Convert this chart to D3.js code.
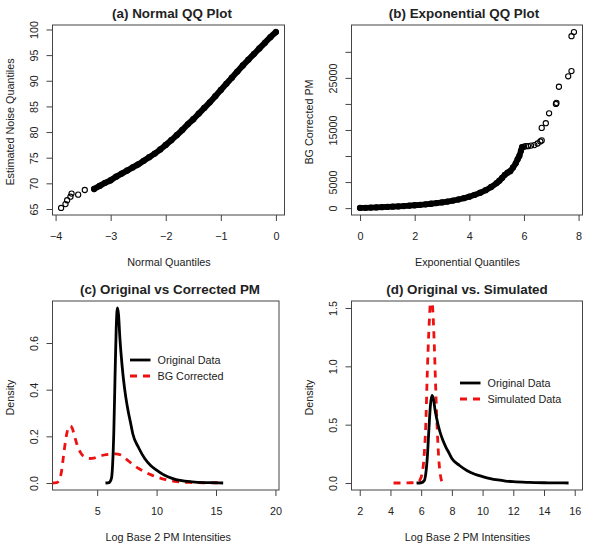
<!DOCTYPE html>
<html><head><meta charset="utf-8">
<script src="https://cdn.jsdelivr.net/npm/d3@7/dist/d3.min.js"></script>
<style>
body{margin:0;background:#fff}
text{font-family:"Liberation Sans",Arial,Helvetica,sans-serif;fill:#222}
</style>
</head><body>
<svg id="chart" width="600" height="550"></svg>
<script>
// ---------- Panel (a) Normal QQ plot ----------
const qqNormX = [-3.90,-3.82,-3.79,-3.73,-3.71,-3.59,-3.47,
  -3.3,-3.2,-3.1,-3.0,-2.9,-2.8,-2.7,-2.6,-2.5,-2.4,-2.3,-2.2,-2.1,-2.0,-1.9,-1.8,-1.7,-1.6,-1.5,
  -1.4,-1.3,-1.2,-1.1,-1.0,-0.9,-0.8,-0.7,-0.6,-0.5,-0.4,-0.3,-0.2,-0.1,0.0];
const qqNormY = [65.2,65.95,66.7,67.4,68.0,67.8,68.7,
  68.9,69.5,70.1,70.6,71.3,71.9,72.5,73.1,73.7,74.4,75.1,75.8,76.6,77.5,78.4,79.4,80.4,81.5,82.5,
  83.6,84.7,85.8,87.0,88.2,89.4,90.6,91.8,93.0,94.1,95.2,96.3,97.4,98.5,99.5];
const qqNormDenseStart = 7; // index where the dense band begins
const aXTicks = [-4,-3,-2,-1,0];
const aXTickLabels = ["\u22124","\u22123","\u22122","\u22121","0"];
const aYTicks = [65,70,75,80,85,90,95,100];
const aYTickLabels = ["65","70","75","80","85","90","95","100"];

// ---------- Panel (b) Exponential QQ plot ----------
const qqExpX = [0,0.2,0.4,0.6,0.8,1.0,1.2,1.4,1.6,1.8,2.0,2.2,2.4,2.6,2.8,3.0,3.2,3.4,3.6,3.8,4.0,
  4.2,4.4,4.6,4.8,5.0,5.1,5.2,5.3,5.4,5.5,5.6,5.7,5.77,5.83,5.89,5.93,
  6.0,6.07,6.15,6.26,6.38,6.5,6.6,6.65,6.65,6.8,6.92,7.17,7.19,7.28,7.62,7.74,7.74,7.83];
const qqExpY = [30,60,100,140,180,230,280,330,400,470,550,640,730,840,960,1100,1260,1440,1650,1900,2200,
  2550,2950,3450,4050,4800,5250,5800,6400,6800,7100,7800,8600,9400,10000,11000,11700,
  11800,11900,11900,12000,12100,12400,12800,13000,15400,16300,18200,20000,20200,23300,25300,26300,33000,33800];
const qqExpDenseEnd = 37; // dense band covers indices below this
const bXTicks = [0,2,4,6,8];
const bXTickLabels = ["0","2","4","6","8"];
const bYTicks = [0,5000,10000,15000,20000,25000,30000];
const bYTickLabels = ["0","5000","","15000","","25000",""];

// ---------- Panel (c) Original vs Corrected ----------
const origX = [5.7,6.0,6.2,6.3,6.4,6.5,6.6,6.7,6.8,6.9,7.0,7.2,7.4,7.6,7.8,8.0,8.5,9.0,9.5,10,10.5,11,11.5,12,13,14,15,15.6];
const origY = [0,0.002,0.02,0.08,0.22,0.45,0.66,0.75,0.72,0.63,0.56,0.45,0.37,0.31,0.26,0.21,0.15,0.105,0.075,0.055,0.038,0.026,0.017,0.011,0.005,0.002,0.001,0];
const bgX = [1.2,1.6,1.8,2.0,2.2,2.4,2.6,2.75,2.9,3.1,3.3,3.6,4.0,4.4,4.8,5.2,5.6,6.0,6.5,7.0,7.5,8.0,8.5,9.0,9.5,10,10.5,11,11.5,12,13,14,15.4];
const bgY = [0,0.002,0.01,0.05,0.13,0.2,0.24,0.245,0.235,0.2,0.165,0.13,0.11,0.105,0.108,0.115,0.12,0.123,0.125,0.12,0.1,0.08,0.062,0.048,0.036,0.026,0.018,0.012,0.007,0.004,0.002,0.001,0];
const cXTicks = [5,10,15,20];
const cYTicks = [0,0.2,0.4,0.6];
const cYTickLabels = ["0.0","0.2","0.4","0.6"];
const cLegend = ["Original Data","BG Corrected"];

// ---------- Panel (d) Original vs Simulated ----------
const simX = [4.2,4.8,5.4,5.8,6.0,6.2,6.3,6.4,6.5,6.6,6.65,6.75,6.85,6.95,7.05,7.15,7.25,7.35,7.4];
const simY = [0,0,0.002,0.01,0.05,0.25,0.5,0.95,1.3,1.55,1.6,1.5,1.2,0.8,0.45,0.2,0.07,0.01,0];
const dXTicks = [2,4,6,8,10,12,14,16];
const dYTicks = [0,0.5,1.0,1.5];
const dYTickLabels = ["0.0","0.5","1.0","1.5"];
const dLegend = ["Original Data","Simulated Data"];

const RED = "#ee1111";
const svg = d3.select("#chart");
const FS = 10.8;

function panel(o){
  const g = svg.append("g");
  const x = d3.scaleLinear().domain(o.xd).range([o.x0,o.x1]);
  const y = d3.scaleLinear().domain(o.yd).range([o.y1,o.y0]);
  const cid = "clip"+o.id;
  g.append("clipPath").attr("id",cid).append("rect")
    .attr("x",o.x0).attr("y",o.y0).attr("width",o.x1-o.x0).attr("height",o.y1-o.y0);
  // x axis
  const xa = g.append("g").attr("transform",`translate(0,${o.y1})`)
    .call(d3.axisBottom(x).tickValues(o.xt).tickSize(6).tickPadding(11)
      .tickFormat((d,i)=>o.xl[i]));
  xa.select(".domain").remove();
  xa.selectAll("line").attr("stroke","#444");
  xa.selectAll("text").attr("font-size",FS).attr("fill","#222")
    .style("font-family",'"Liberation Sans",Arial,sans-serif');
  // y axis
  const ya = g.append("g").attr("transform",`translate(${o.x0},0)`)
    .call(d3.axisLeft(y).tickValues(o.yt).tickSize(6)
      .tickFormat((d,i)=>o.yl[i]));
  ya.select(".domain").remove();
  ya.selectAll("line").attr("stroke","#444");
  ya.selectAll("text").attr("font-size",FS).attr("fill","#222")
    .style("font-family",'"Liberation Sans",Arial,sans-serif')
    .attr("transform","rotate(-90)").attr("x",0).attr("y",-15).attr("dy",null)
    .attr("text-anchor","middle");
  // box
  g.append("rect").attr("x",o.x0).attr("y",o.y0).attr("width",o.x1-o.x0).attr("height",o.y1-o.y0)
    .attr("fill","none").attr("stroke","#444").attr("stroke-width",1);
  // title and labels
  g.append("text").attr("x",o.tx).attr("y",o.y0-7).attr("text-anchor","middle")
    .attr("font-size",13.4).attr("font-weight","bold").attr("fill","#111").text(o.title);
  g.append("text").attr("x",o.lx).attr("y",o.y1+51).attr("text-anchor","middle")
    .attr("font-size",FS).text(o.xlab);
  g.append("text").attr("transform",`translate(${o.x0-38.5},${(o.y0+o.y1)/2+2}) rotate(-90)`)
    .attr("text-anchor","middle").attr("font-size",FS).text(o.ylab);
  const plot = g.append("g").attr("clip-path",`url(#${cid})`);
  return {x,y,plot,g};
}

// Panel a
{
  const ax = d3.extent(qqNormX), ay = d3.extent(qqNormY);
  const px = (ax[1]-ax[0])*0.04, py = (ay[1]-ay[0])*0.04;
  const p = panel({id:"a",x0:52.5,x1:284.5,y0:25,y1:215,
    xd:[ax[0]-px,ax[1]+px],yd:[ay[0]-py,ay[1]+py],
    xt:aXTicks,xl:aXTickLabels,yt:aYTicks,yl:aYTickLabels,
    title:"(a) Normal QQ Plot",tx:172,xlab:"Normal Quantiles",lx:169,ylab:"Estimated Noise Quantiles"});
  const pts = qqNormX.map((v,i)=>[v,qqNormY[i]]);
  p.plot.append("path").datum(pts.slice(qqNormDenseStart))
    .attr("d",d3.line().x(d=>p.x(d[0])).y(d=>p.y(d[1])).curve(d3.curveMonotoneX))
    .attr("fill","none").attr("stroke","#000").attr("stroke-width",6).attr("stroke-linecap","round");
  p.plot.selectAll("circle").data(pts).join("circle")
    .attr("cx",d=>p.x(d[0])).attr("cy",d=>p.y(d[1])).attr("r",2.6)
    .attr("fill","none").attr("stroke","#000").attr("stroke-width",1.1);
}
// Panel b
{
  const ax = d3.extent(qqExpX), ay = d3.extent(qqExpY);
  const px = (ax[1]-ax[0])*0.04, py = (ay[1]-ay[0])*0.04;
  const p = panel({id:"b",x0:351.5,x1:582.5,y0:25,y1:215,
    xd:[ax[0]-px,ax[1]+px],yd:[ay[0]-py,ay[1]+py],
    xt:bXTicks,xl:bXTickLabels,yt:bYTicks,yl:bYTickLabels,
    title:"(b) Exponential QQ Plot",tx:464,xlab:"Exponential Quantiles",lx:467.5,ylab:"BG Corrected PM"});
  const pts = qqExpX.map((v,i)=>[v,qqExpY[i]]);
  p.plot.append("path").datum(pts.slice(0,qqExpDenseEnd))
    .attr("d",d3.line().x(d=>p.x(d[0])).y(d=>p.y(d[1])))
    .attr("fill","none").attr("stroke","#000").attr("stroke-width",5.8).attr("stroke-linecap","round");
  p.plot.selectAll("circle").data(pts).join("circle")
    .attr("cx",d=>p.x(d[0])).attr("cy",d=>p.y(d[1])).attr("r",2.6)
    .attr("fill","none").attr("stroke","#000").attr("stroke-width",1.1);
}
function drawLegend(g,x0,y0,labels){
  const rows = [{c:"#000",dash:null},{c:RED,dash:"7,6"}];
  rows.forEach((r,i)=>{
    const yy = y0 + i*16;
    g.append("line").attr("x1",x0).attr("x2",x0+20.5).attr("y1",yy).attr("y2",yy)
      .attr("stroke",r.c).attr("stroke-width",2.8).attr("stroke-dasharray",r.dash);
    g.append("text").attr("x",x0+27.5).attr("y",yy+4).attr("font-size",FS).text(labels[i]);
  });
}
// Panel c
{
  const ylim = [0,0.75], yp = (ylim[1]-ylim[0])*0.04;
  const p = panel({id:"c",x0:52.5,x1:279,y0:301,y1:490,
    xd:[1.24,20.3],yd:[ylim[0]-yp,ylim[1]+yp],
    xt:cXTicks,xl:cXTicks.map(String),yt:cYTicks,yl:cYTickLabels,
    title:"(c) Original vs Corrected PM",tx:170,xlab:"Log Base 2 PM Intensities",lx:168.3,ylab:"Density"});
  const line = d3.line().x(d=>p.x(d[0])).y(d=>p.y(d[1])).curve(d3.curveMonotoneX);
  p.plot.append("path").datum(bgX.map((v,i)=>[v,bgY[i]])).attr("d",line)
    .attr("fill","none").attr("stroke",RED).attr("stroke-width",2.8).attr("stroke-dasharray","7,6");
  p.plot.append("path").datum(origX.map((v,i)=>[v,origY[i]])).attr("d",line)
    .attr("fill","none").attr("stroke","#000").attr("stroke-width",2.8);
  drawLegend(p.g,130,360,cLegend);
}
// Panel d
{
  const ylim = [0,1.5], yp = (ylim[1]-ylim[0])*0.04;
  const xlim = [2.02,15.95], xp = (xlim[1]-xlim[0])*0.04;
  const p = panel({id:"d",x0:351.5,x1:582.5,y0:301,y1:490,
    xd:[xlim[0]-xp,xlim[1]+xp],yd:[ylim[0]-yp,ylim[1]+yp],
    xt:dXTicks,xl:dXTicks.map(String),yt:dYTicks,yl:dYTickLabels,
    title:"(d) Original vs. Simulated",tx:467,xlab:"Log Base 2 PM Intensities",lx:467.5,ylab:"Density"});
  const line = d3.line().x(d=>p.x(d[0])).y(d=>p.y(d[1])).curve(d3.curveMonotoneX);
  p.plot.append("path").datum(simX.map((v,i)=>[v,simY[i]])).attr("d",line)
    .attr("fill","none").attr("stroke",RED).attr("stroke-width",2.8).attr("stroke-dasharray","7,6");
  p.plot.append("path").datum(origX.map((v,i)=>[v,origY[i]])).attr("d",line)
    .attr("fill","none").attr("stroke","#000").attr("stroke-width",2.8);
  drawLegend(p.g,460,383,dLegend);
}
</script>
</body></html>
